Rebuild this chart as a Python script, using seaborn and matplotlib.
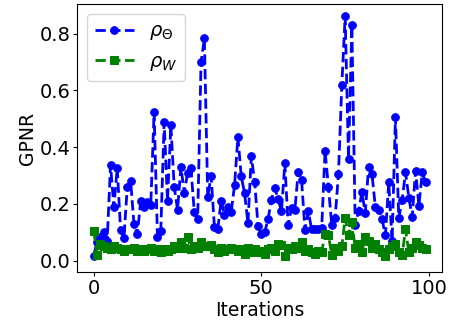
import numpy as np
import matplotlib
matplotlib.use("Agg")
import matplotlib.pyplot as plt
import seaborn as sns

# GPNR per iteration
rho_theta = [
    0.018, 0.066, 0.083, 0.100, 0.070, 0.337, 0.190, 0.327, 0.107, 0.081,
    0.260, 0.280, 0.128, 0.093, 0.210, 0.190, 0.207, 0.196, 0.524, 0.083,
    0.106, 0.488, 0.210, 0.477, 0.260, 0.180, 0.330, 0.240, 0.310, 0.325,
    0.170, 0.146, 0.699, 0.784, 0.223, 0.300, 0.118, 0.111, 0.212, 0.162,
    0.190, 0.172, 0.266, 0.436, 0.298, 0.237, 0.132, 0.368, 0.278, 0.123,
    0.094, 0.100, 0.147, 0.214, 0.257, 0.217, 0.175, 0.343, 0.124, 0.185,
    0.180, 0.313, 0.284, 0.109, 0.175, 0.110, 0.112, 0.113, 0.114, 0.387,
    0.261, 0.126, 0.150, 0.305, 0.618, 0.861, 0.359, 0.830, 0.126, 0.175,
    0.241, 0.168, 0.331, 0.305, 0.190, 0.177, 0.147, 0.089, 0.276, 0.068,
    0.506, 0.150, 0.214, 0.311, 0.222, 0.154, 0.317, 0.194, 0.311, 0.278,
]
rho_w = [
    0.105, 0.020, 0.060, 0.050, 0.045, 0.040, 0.050, 0.045, 0.040, 0.035,
    0.040, 0.040, 0.045, 0.035, 0.040, 0.035, 0.040, 0.045, 0.035, 0.040,
    0.030, 0.040, 0.035, 0.040, 0.050, 0.045, 0.065, 0.045, 0.085, 0.040,
    0.050, 0.045, 0.065, 0.050, 0.050, 0.055, 0.040, 0.030, 0.045, 0.035,
    0.040, 0.045, 0.040, 0.035, 0.040, 0.025, 0.045, 0.030, 0.040, 0.030,
    0.035, 0.025, 0.040, 0.045, 0.035, 0.060, 0.055, 0.015, 0.045, 0.040,
    0.050, 0.045, 0.065, 0.035, 0.040, 0.030, 0.025, 0.035, 0.030, 0.095,
    0.090, 0.020, 0.045, 0.035, 0.050, 0.150, 0.090, 0.135, 0.045, 0.060,
    0.030, 0.085, 0.070, 0.045, 0.060, 0.040, 0.030, 0.015, 0.040, 0.050,
    0.060, 0.030, 0.020, 0.110, 0.030, 0.045, 0.065, 0.055, 0.045, 0.040,
]
iterations = np.arange(len(rho_theta))

plt.rcParams["font.family"] = ["DejaVu Sans"]

fig = plt.figure(figsize=(4.54, 3.2), dpi=100)
ax = fig.add_axes([0.170, 0.15, 0.804, 0.8375])

sns.lineplot(x=iterations, y=rho_theta, ax=ax, color="b", linestyle="--",
             linewidth=2, marker="o", markersize=5.5, markeredgecolor="b",
             label=r"$\rho_\Theta$")
sns.lineplot(x=iterations, y=rho_w, ax=ax, color="g", linestyle="--",
             linewidth=2, marker="s", markersize=5.5, markeredgecolor="g",
             label=r"$\rho_W$")

ax.set_xlabel("Iterations", fontsize=13.5, labelpad=2)
ax.set_ylabel("GPNR", fontsize=13.5, labelpad=2)
ax.set_xticks([0, 50, 100])
ax.set_yticks([0.0, 0.2, 0.4, 0.6, 0.8])
ax.set_ylim(-0.04, 0.905)
ax.tick_params(labelsize=14, length=3, pad=2)
ax.legend(loc="upper left", fontsize=14)

fig.savefig("out.png", dpi=100)
